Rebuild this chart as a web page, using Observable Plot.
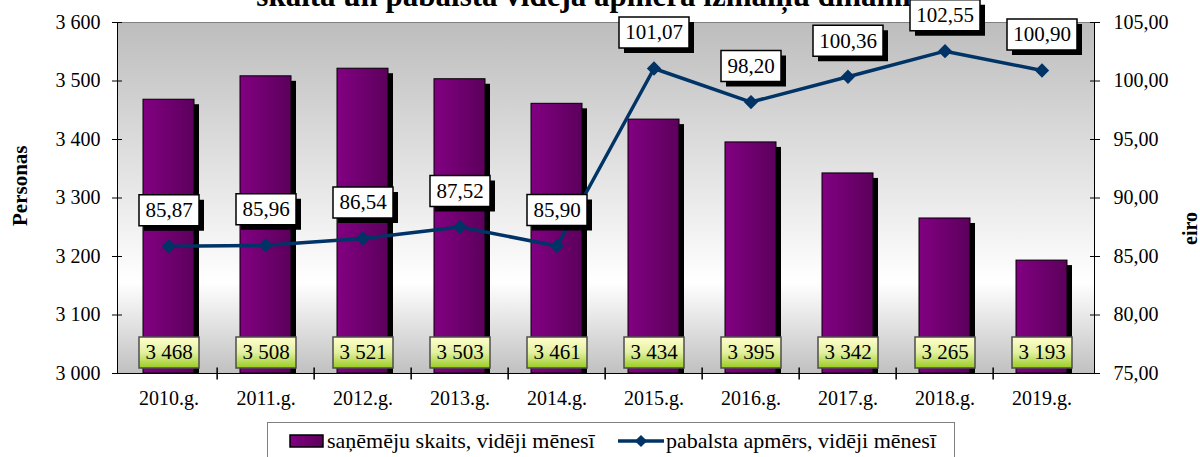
<!DOCTYPE html>
<html>
<head>
<meta charset="utf-8">
<script src="https://cdn.jsdelivr.net/npm/d3@7"></script>
<script src="https://cdn.jsdelivr.net/npm/@observablehq/plot@0.6"></script>
<style>
  body { margin: 0; background: #fff; font-family: "Liberation Serif", "Times New Roman", serif; }
  #wrap { position: relative; width: 1200px; height: 457px; overflow: hidden; background: #fff; }
  #title { position: absolute; left: 0; top: -20px; width: 1200px; text-align: center; font-weight: bold;
           font-family: "Liberation Serif", serif; font-size: 31px; line-height: 31px; white-space: nowrap; color: #000; }
  #chart { position: absolute; left: 0; top: 0; }
  #legend { position: absolute; left: 267px; top: 422px; width: 688px; height: 50px; border: 1px solid #808080;
            background: #fff; font-family: "Liberation Serif", serif; font-size: 22px; color: #000; box-sizing: border-box; }
  #legend .item { position: absolute; top: 5px; display: flex; align-items: center; white-space: nowrap; }
  #legend svg { display: block; margin-right: 2px; }
</style>
</head>
<body>
<div id="wrap">
  <div id="title"></div>
  <div id="chart"></div>
  <div id="legend"></div>
</div>
<script>
// ---- data ----
const titleText = "skaita un pabalsta vidējā apmēra izmaiņu dinamika";
const years = ["2010.g.", "2011.g.", "2012.g.", "2013.g.", "2014.g.", "2015.g.", "2016.g.", "2017.g.", "2018.g.", "2019.g."];
const recipients = [3468, 3508, 3521, 3503, 3461, 3434, 3395, 3342, 3265, 3193];
const benefit = [85.87, 85.96, 86.54, 87.52, 85.90, 101.07, 98.20, 100.36, 102.55, 100.90];
const leftTicks = [3000, 3100, 3200, 3300, 3400, 3500, 3600];
const rightTicks = [75, 80, 85, 90, 95, 100, 105];
const seriesNames = ["saņēmēju skaits, vidēji mēnesī", "pabalsta apmērs, vidēji mēnesī"];
const leftAxisTitle = "Personas";
const rightAxisTitle = "eiro";

// ---- helpers ----
const yMin = leftTicks[0], yMax = leftTicks[leftTicks.length - 1];
const eMin = rightTicks[0], eMax = rightTicks[rightTicks.length - 1];
const toLeft = v => yMin + (v - eMin) * (yMax - yMin) / (eMax - eMin);
const fromLeft = y => eMin + (y - yMin) * (eMax - eMin) / (yMax - yMin);
const fmtCount = d => d3.format(",")(d).replace(/,/g, " ");
const fmtEur = d => d.toFixed(2).replace(".", ",");
const labelW = s => s.length * 10 + 10;

const rows = years.map((year, i) => ({year, count: recipients[i], eur: benefit[i]}));

const W = 1200, H = 410, mL = 117, mR = 106, mT = 22, mB = 37;
const step = (W - mL - mR) / years.length;

const boxSymbol = { draw(ctx, size) { const w = Math.sqrt(size / Math.PI); ctx.rect(-w / 2, -15.5, w, 31); } };
const vTick = { draw(ctx) { ctx.moveTo(0, -6); ctx.lineTo(0, 6); } };

document.getElementById("title").textContent = titleText;

const chart = Plot.plot({
  width: W, height: H,
  marginLeft: mL, marginRight: mR, marginTop: mT, marginBottom: mB,
  style: { fontFamily: "'Liberation Serif', 'Times New Roman', serif", fontSize: "20px", color: "#000", background: "transparent" },
  x: { domain: years, paddingInner: 0.47, paddingOuter: 0.235 },
  y: { domain: [yMin, yMax] },
  r: { type: "identity" },
  marks: [
    Plot.frame({ fill: "url(#bgGrad)", stroke: "#808080" }),
    // bar shadows & bars
    Plot.barY(rows, { x: "year", y1: yMin, y2: "count", fill: "#000", dx: 5, dy: 5, clip: true }),
    Plot.barY(rows, { x: "year", y1: yMin, y2: "count", fill: "url(#barGrad)", stroke: "#000", strokeWidth: 1 }),
    // axis lines
    Plot.frame({ anchor: "left", stroke: "#000" }),
    Plot.frame({ anchor: "right", stroke: "#000" }),
    Plot.frame({ anchor: "bottom", stroke: "#000" }),
    // left axis
    Plot.axisY(leftTicks, { anchor: "left", tickSize: 10, dx: 5, fill: "none", label: null }),
    Plot.axisY(leftTicks, { anchor: "left", tickSize: 0, tickPadding: 17, tickFormat: fmtCount, label: null }),
    // right axis (eiro mapped onto left scale)
    Plot.axisY(rightTicks.map(toLeft), { anchor: "right", tickSize: 10, dx: -5, fill: "none", label: null }),
    Plot.axisY(rightTicks.map(toLeft), { anchor: "right", tickSize: 0, tickPadding: 19, tickFormat: d => fmtEur(fromLeft(d)), label: null }),
    // x axis
    Plot.axisX({ tickSize: 0, tickPadding: 17, label: null }),
    Plot.dot(years.slice(1), { x: d => d, y: yMin, dx: -step / 2, symbol: vTick, r: 1, fill: "none", stroke: "#000" }),
    // bar value labels
    Plot.dot(rows, { x: "year", y: yMin, dy: -21, symbol: boxSymbol, r: d => labelW(fmtCount(d.count)), fill: "url(#lblGrad)", stroke: "#4d4d4d" }),
    Plot.text(rows, { x: "year", y: yMin, dy: -21, text: d => fmtCount(d.count), fontSize: 21, fill: "#000" }),
    // line series
    Plot.line(rows, { x: "year", y: d => toLeft(d.eur), stroke: "#003366", strokeWidth: 3.5 }),
    Plot.dot(rows, { x: "year", y: d => toLeft(d.eur), symbol: "diamond2", r: 5.5, fill: "#003366", stroke: "#003366" }),
    // line value labels
    Plot.dot(rows, { x: "year", y: d => toLeft(d.eur), dx: 5, dy: -31, symbol: boxSymbol, r: d => labelW(fmtEur(d.eur)), fill: "#000" }),
    Plot.dot(rows, { x: "year", y: d => toLeft(d.eur), dy: -36, symbol: boxSymbol, r: d => labelW(fmtEur(d.eur)), fill: "#fff", stroke: "#000" }),
    Plot.text(rows, { x: "year", y: d => toLeft(d.eur), dy: -36, text: d => fmtEur(d.eur), fontSize: 21, fill: "#000" }),
    // axis titles
    Plot.text([leftAxisTitle], { text: d => d, frameAnchor: "left", dx: -97, dy: 28, rotate: -90, fontWeight: "bold", fontSize: 21, fill: "#000" }),
    Plot.text([rightAxisTitle], { text: d => d, frameAnchor: "right", dx: 96, dy: 14, rotate: -90, fontWeight: "bold", fontSize: 20, fill: "#000" })
  ]
});

// gradients
const defs = d3.select(chart).insert("defs", ":first-child");
const bg = defs.append("linearGradient").attr("id", "bgGrad").attr("x1", 0).attr("y1", 0).attr("x2", 0).attr("y2", 1);
bg.append("stop").attr("offset", 0).attr("stop-color", "#bdbdbd");
bg.append("stop").attr("offset", 0.74).attr("stop-color", "#ffffff");
bg.append("stop").attr("offset", 1).attr("stop-color", "#c0c0c0");
const bar = defs.append("linearGradient").attr("id", "barGrad").attr("x1", 0).attr("y1", 0).attr("x2", 1).attr("y2", 0);
bar.append("stop").attr("offset", 0).attr("stop-color", "#820082");
bar.append("stop").attr("offset", 1).attr("stop-color", "#5c005c");
const lbl = defs.append("linearGradient").attr("id", "lblGrad").attr("x1", 0).attr("y1", 0).attr("x2", 0).attr("y2", 1);
lbl.append("stop").attr("offset", 0).attr("stop-color", "#ffffcc");
lbl.append("stop").attr("offset", 0.5).attr("stop-color", "#e3f0a0");
lbl.append("stop").attr("offset", 1).attr("stop-color", "#99cc22");

document.getElementById("chart").append(chart);

// legend
const legend = d3.select("#legend");
const it1 = legend.append("div").attr("class", "item").style("left", "21px");
const s1 = it1.append("svg").attr("width", 36).attr("height", 16);
const lg = s1.append("defs").append("linearGradient").attr("id", "legGrad").attr("x1", 0).attr("x2", 1).attr("y1", 0).attr("y2", 0);
lg.append("stop").attr("offset", 0).attr("stop-color", "#820082");
lg.append("stop").attr("offset", 1).attr("stop-color", "#5c005c");
s1.append("rect").attr("x", 1).attr("y", 2).attr("width", 33).attr("height", 12).attr("fill", "url(#legGrad)").attr("stroke", "#000").attr("stroke-width", 1.5);
it1.append("span").text(seriesNames[0]);
const it2 = legend.append("div").attr("class", "item").style("left", "350px");
const s2 = it2.append("svg").attr("width", 46).attr("height", 16);
s2.append("line").attr("x1", 0).attr("x2", 46).attr("y1", 8).attr("y2", 8).attr("stroke", "#003366").attr("stroke-width", 3.5);
s2.append("path").attr("d", d3.symbol(d3.symbolDiamond2, 5.5 * 5.5 * Math.PI)()).attr("transform", "translate(23,8)").attr("fill", "#003366");
it2.append("span").text(seriesNames[1]);
</script>
</body>
</html>
